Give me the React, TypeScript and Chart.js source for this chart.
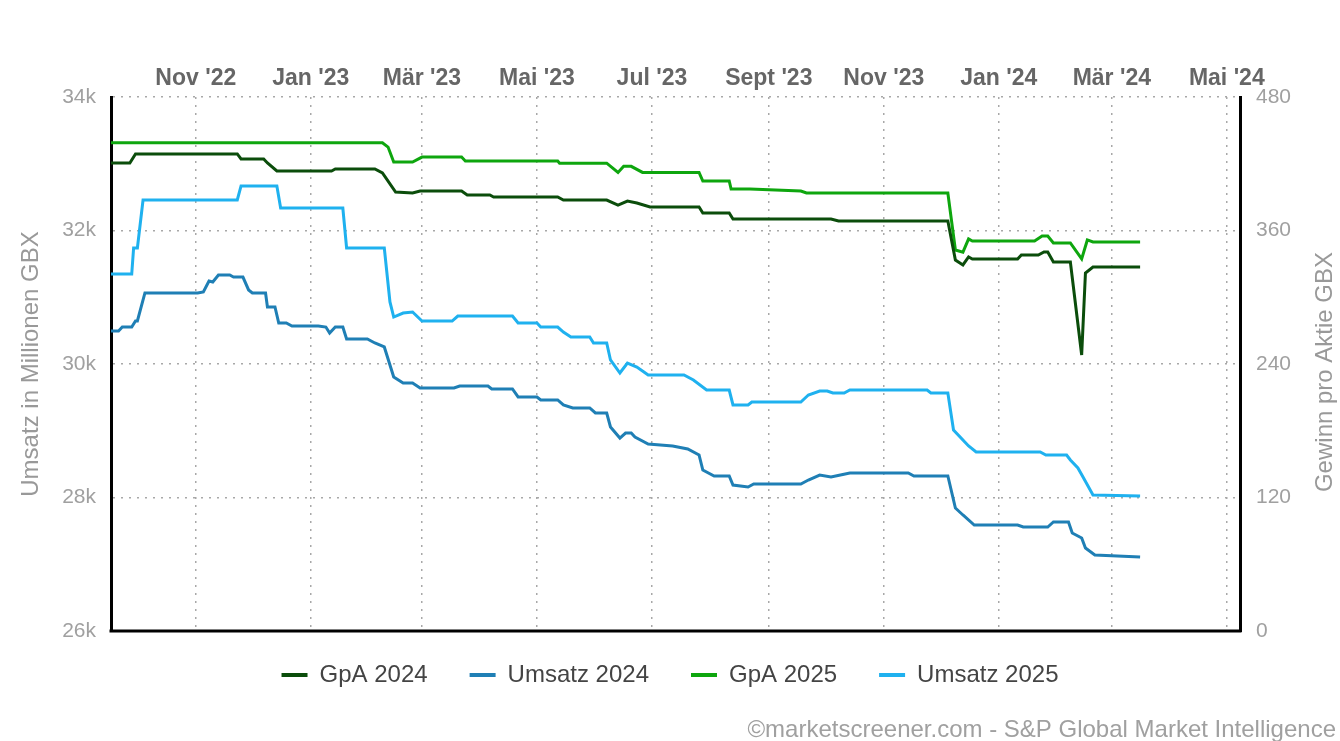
import React, { useEffect, useRef } from 'react';
import { Chart, registerables } from 'chart.js';

Chart.register(...registerables);

const EPOCH_DATE = '2022-09-17';
const X_END_DATE = '2024-05-08';

const monthTickDates = ['2022-11-01', '2023-01-01', '2023-03-01', '2023-05-01', '2023-07-01', '2023-09-01', '2023-11-01', '2024-01-01', '2024-03-01', '2024-05-01'];
const monthTickLabels = ["Nov '22", "Jan '23", "Mär '23", "Mai '23", "Jul '23", "Sept '23", "Nov '23", "Jan '24", "Mär '24", "Mai '24"];

const leftTicks = [26000, 28000, 30000, 32000, 34000];
const rightTicks = [0, 120, 240, 360, 480];

const gpa2024Dates = ['2022-09-17', '2022-09-27', '2022-09-30', '2022-11-23', '2022-11-25', '2022-12-07', '2022-12-09', '2022-12-14', '2023-01-12', '2023-01-14', '2023-02-04', '2023-02-08', '2023-02-15', '2023-02-24', '2023-02-28', '2023-03-22', '2023-03-25', '2023-04-06', '2023-04-08', '2023-05-12', '2023-05-15', '2023-06-07', '2023-06-13', '2023-06-18', '2023-06-23', '2023-06-30', '2023-07-26', '2023-07-28', '2023-08-11', '2023-08-13', '2023-10-04', '2023-10-08', '2023-12-05', '2023-12-09', '2023-12-13', '2023-12-16', '2023-12-18', '2024-01-11', '2024-01-13', '2024-01-22', '2024-01-25', '2024-01-27', '2024-01-30', '2024-02-08', '2024-02-14', '2024-02-16', '2024-02-20', '2024-03-16'];
const gpa2024Values = [420.7, 420.7, 428.8, 428.8, 424.3, 424.3, 420.7, 413.5, 413.5, 415.3, 415.3, 411.7, 394.6, 393.7, 395.5, 395.5, 391.9, 391.9, 390.1, 390.1, 387.4, 387.4, 382.9, 386.5, 384.7, 381.1, 381.1, 375.7, 375.7, 370.3, 370.3, 368.5, 368.5, 333.5, 329, 336.2, 334.4, 334.4, 338, 338, 340.7, 340.7, 331.7, 331.7, 248.1, 321.8, 327.2, 327.2];

const gpa2025Dates = ['2022-09-17', '2023-02-08', '2023-02-11', '2023-02-14', '2023-02-24', '2023-03-01', '2023-03-22', '2023-03-24', '2023-05-12', '2023-05-13', '2023-06-07', '2023-06-13', '2023-06-16', '2023-06-20', '2023-06-26', '2023-07-26', '2023-07-28', '2023-08-11', '2023-08-12', '2023-08-22', '2023-09-18', '2023-09-21', '2023-12-05', '2023-12-09', '2023-12-13', '2023-12-16', '2023-12-18', '2024-01-20', '2024-01-24', '2024-01-27', '2024-01-30', '2024-02-08', '2024-02-14', '2024-02-17', '2024-02-20', '2024-03-16'];
const gpa2025Values = [438.9, 438.9, 435, 421.6, 421.6, 426, 426, 422.5, 422.5, 420.5, 420.5, 412.2, 417.7, 417.7, 412.2, 412.2, 404.5, 404.5, 397.3, 397.3, 395.5, 393.7, 393.7, 342.5, 340.5, 352.4, 350.6, 350.6, 355, 355, 348.8, 348.8, 334.4, 351.5, 349.7, 349.7];

const umsatz2024Dates = ['2022-09-17', '2022-09-21', '2022-09-23', '2022-09-28', '2022-09-30', '2022-10-01', '2022-10-05', '2022-11-02', '2022-11-05', '2022-11-08', '2022-11-10', '2022-11-13', '2022-11-19', '2022-11-21', '2022-11-26', '2022-11-29', '2022-12-01', '2022-12-08', '2022-12-09', '2022-12-13', '2022-12-15', '2022-12-19', '2022-12-22', '2023-01-05', '2023-01-09', '2023-01-11', '2023-01-14', '2023-01-18', '2023-01-20', '2023-01-31', '2023-02-04', '2023-02-09', '2023-02-14', '2023-02-19', '2023-02-24', '2023-02-28', '2023-03-18', '2023-03-21', '2023-04-05', '2023-04-07', '2023-04-18', '2023-04-21', '2023-05-01', '2023-05-03', '2023-05-12', '2023-05-15', '2023-05-20', '2023-05-29', '2023-06-01', '2023-06-07', '2023-06-09', '2023-06-14', '2023-06-17', '2023-06-20', '2023-06-22', '2023-06-29', '2023-07-12', '2023-07-20', '2023-07-26', '2023-07-28', '2023-08-03', '2023-08-11', '2023-08-13', '2023-08-21', '2023-08-24', '2023-09-18', '2023-09-22', '2023-09-28', '2023-10-04', '2023-10-09', '2023-10-14', '2023-11-14', '2023-11-17', '2023-12-05', '2023-12-09', '2023-12-13', '2023-12-19', '2024-01-11', '2024-01-14', '2024-01-27', '2024-01-30', '2024-02-07', '2024-02-09', '2024-02-14', '2024-02-16', '2024-02-21', '2024-03-16'];
const umsatz2024Values = [30494, 30494, 30554, 30554, 30644, 30644, 31064, 31064, 31079, 31244, 31229, 31333, 31333, 31303, 31303, 31109, 31064, 31064, 30854, 30854, 30614, 30614, 30569, 30569, 30554, 30464, 30554, 30554, 30375, 30375, 30315, 30255, 29805, 29715, 29715, 29640, 29640, 29670, 29670, 29626, 29626, 29506, 29506, 29461, 29461, 29386, 29341, 29341, 29266, 29266, 29056, 28891, 28966, 28966, 28906, 28802, 28772, 28727, 28637, 28412, 28322, 28322, 28187, 28157, 28202, 28202, 28262, 28337, 28307, 28337, 28367, 28367, 28322, 28322, 27843, 27738, 27588, 27588, 27558, 27558, 27633, 27633, 27468, 27393, 27243, 27139, 27109];

const umsatz2025Dates = ['2022-09-17', '2022-09-28', '2022-09-29', '2022-10-01', '2022-10-04', '2022-11-23', '2022-11-25', '2022-12-14', '2022-12-16', '2023-01-18', '2023-01-20', '2023-02-09', '2023-02-12', '2023-02-14', '2023-02-19', '2023-02-24', '2023-03-01', '2023-03-17', '2023-03-20', '2023-04-18', '2023-04-21', '2023-05-01', '2023-05-03', '2023-05-12', '2023-05-15', '2023-05-19', '2023-05-29', '2023-05-31', '2023-06-07', '2023-06-09', '2023-06-14', '2023-06-18', '2023-06-23', '2023-06-29', '2023-07-18', '2023-07-23', '2023-07-30', '2023-08-11', '2023-08-13', '2023-08-21', '2023-08-23', '2023-09-18', '2023-09-22', '2023-09-28', '2023-10-02', '2023-10-05', '2023-10-11', '2023-10-14', '2023-11-24', '2023-11-26', '2023-12-05', '2023-12-08', '2023-12-13', '2023-12-16', '2023-12-20', '2024-01-23', '2024-01-26', '2024-02-06', '2024-02-08', '2024-02-12', '2024-02-15', '2024-02-20', '2024-03-16'];
const umsatz2025Values = [31348, 31348, 31738, 31738, 32457, 32457, 32667, 32667, 32337, 32337, 31738, 31738, 30929, 30704, 30764, 30779, 30644, 30644, 30719, 30719, 30614, 30614, 30554, 30554, 30479, 30405, 30405, 30315, 30315, 30060, 29865, 30015, 29955, 29835, 29835, 29760, 29610, 29610, 29386, 29386, 29431, 29431, 29536, 29596, 29596, 29566, 29566, 29611, 29611, 29566, 29566, 29011, 28862, 28772, 28682, 28682, 28637, 28637, 28562, 28442, 28292, 28038, 28023];

const LEFT_TITLE = 'Umsatz in Millionen GBX';
const RIGHT_TITLE = 'Gewinn pro Aktie GBX';
const FOOTER = '©marketscreener.com - S&P Global Market Intelligence';

const FONT = '"Liberation Sans", Arial, Helvetica, sans-serif';

const dayOf = (s: string) => {
  const [y, m, d] = s.split('-').map(Number);
  const [ey, em, ed] = EPOCH_DATE.split('-').map(Number);
  return (Date.UTC(y, m - 1, d) - Date.UTC(ey, em - 1, ed)) / 86400000;
};

const toPoints = (dates: string[], values: number[]) => dates.map((d, i) => ({ x: dayOf(d), y: values[i] }));

const decorPlugin = {
  id: 'decor',
  afterLayout(chart: any) {
    const l = chart.legend;
    if (l) {
      l.top -= 10;
      l.bottom -= 10;
    }
  },
  afterDraw(chart: any) {
    const { ctx, chartArea } = chart;
    ctx.save();
    ctx.strokeStyle = '#000';
    ctx.lineWidth = 3;
    ctx.beginPath();
    ctx.moveTo(chartArea.left - 1.5, chartArea.bottom);
    ctx.lineTo(chartArea.right + 1.5, chartArea.bottom);
    ctx.stroke();
    ctx.restore();

    ctx.save();
    ctx.translate(1325, (chartArea.top + chartArea.bottom) / 2 + 8);
    ctx.rotate(-Math.PI / 2);
    ctx.font = `24px ${FONT}`;
    ctx.fillStyle = '#999999';
    ctx.textAlign = 'center';
    ctx.textBaseline = 'middle';
    ctx.fillText(RIGHT_TITLE, 0, 0);
    ctx.restore();

    ctx.save();
    ctx.font = `24px ${FONT}`;
    ctx.fillStyle = '#a0a0a0';
    ctx.textAlign = 'right';
    ctx.textBaseline = 'middle';
    ctx.fillText(FOOTER, chart.width - 4, chart.height - 11);
    ctx.restore();
  },
};

export default function App() {
  const canvasRef = useRef<HTMLCanvasElement | null>(null);

  useEffect(() => {
    document.body.style.margin = '0';
    const canvas = canvasRef.current;
    if (!canvas) return;
    const tickDays = monthTickDates.map(dayOf);
    const dash = [2, 6];
    const chart = new Chart(canvas, {
      type: 'line',
      data: {
        datasets: [
          { label: 'GpA 2024', data: toPoints(gpa2024Dates, gpa2024Values), yAxisID: 'y1', borderColor: '#0b4d0b', backgroundColor: '#0b4d0b' },
          { label: 'Umsatz 2024', data: toPoints(umsatz2024Dates, umsatz2024Values), yAxisID: 'y', borderColor: '#1f7fb5', backgroundColor: '#1f7fb5' },
          { label: 'GpA 2025', data: toPoints(gpa2025Dates, gpa2025Values), yAxisID: 'y1', borderColor: '#0ea60e', backgroundColor: '#0ea60e' },
          { label: 'Umsatz 2025', data: toPoints(umsatz2025Dates, umsatz2025Values), yAxisID: 'y', borderColor: '#1fb1ef', backgroundColor: '#1fb1ef' },
        ],
      },
      options: {
        responsive: false,
        animation: false,
        devicePixelRatio: 1,
        parsing: false,
        elements: {
          point: { radius: 0, hoverRadius: 0 },
          line: { borderWidth: 3, tension: 0, fill: false },
        },
        layout: { padding: { left: 0, right: 0, top: 0, bottom: 34 } },
        scales: {
          x: {
            type: 'linear',
            position: 'top',
            min: 0,
            max: dayOf(X_END_DATE),
            afterBuildTicks: (scale: any) => {
              scale.ticks = tickDays.map((v) => ({ value: v }));
            },
            afterFit: (scale: any) => {
              scale.height = 97;
            },
            ticks: {
              autoSkip: false,
              maxRotation: 0,
              padding: 5,
              color: '#666666',
              font: { family: FONT, size: 23, weight: 'bold' },
              callback: (_v: any, i: number) => monthTickLabels[i],
            },
            grid: { color: '#a8a8a8', lineWidth: 1.5, drawTicks: false },
            border: { display: false, dash },
          },
          y: {
            type: 'linear',
            position: 'left',
            min: leftTicks[0],
            max: leftTicks[leftTicks.length - 1],
            afterBuildTicks: (scale: any) => {
              scale.ticks = leftTicks.map((v) => ({ value: v }));
            },
            afterFit: (scale: any) => {
              scale.width = 111;
            },
            ticks: {
              padding: 15,
              color: '#a0a0a0',
              font: { family: FONT, size: 21 },
              callback: (v: any) => `${Number(v) / 1000}k`,
            },
            grid: { color: '#a8a8a8', lineWidth: 1.5, drawTicks: false },
            border: { display: true, color: '#000', width: 3, dash },
            title: {
              display: true,
              text: LEFT_TITLE,
              color: '#999999',
              font: { family: FONT, size: 24 },
              padding: { top: 17, bottom: 0 },
            },
          },
          y1: {
            type: 'linear',
            position: 'right',
            min: rightTicks[0],
            max: rightTicks[rightTicks.length - 1],
            afterBuildTicks: (scale: any) => {
              scale.ticks = rightTicks.map((v) => ({ value: v }));
            },
            afterFit: (scale: any) => {
              scale.width = 100;
            },
            ticks: {
              padding: 16,
              color: '#a0a0a0',
              font: { family: FONT, size: 21 },
            },
            grid: { display: false, drawTicks: false },
            border: { display: true, color: '#000', width: 3 },
          },
        },
        plugins: {
          legend: {
            display: true,
            position: 'bottom',
            labels: {
              boxWidth: 26,
              boxHeight: 4,
              padding: 42,
              color: '#444444',
              font: { family: FONT, size: 24 },
              generateLabels: (c: any) =>
                Chart.defaults.plugins.legend.labels.generateLabels(c).map((l: any) => ({ ...l, lineWidth: 0 })),
            },
          },
          tooltip: { enabled: false },
        },
      },
      plugins: [decorPlugin],
    } as any);
    return () => chart.destroy();
  }, []);

  return (
    <div style={{ width: 1340, height: 741, position: 'relative', background: '#fff' }}>
      <canvas ref={canvasRef} width={1340} height={741} />
    </div>
  );
}
